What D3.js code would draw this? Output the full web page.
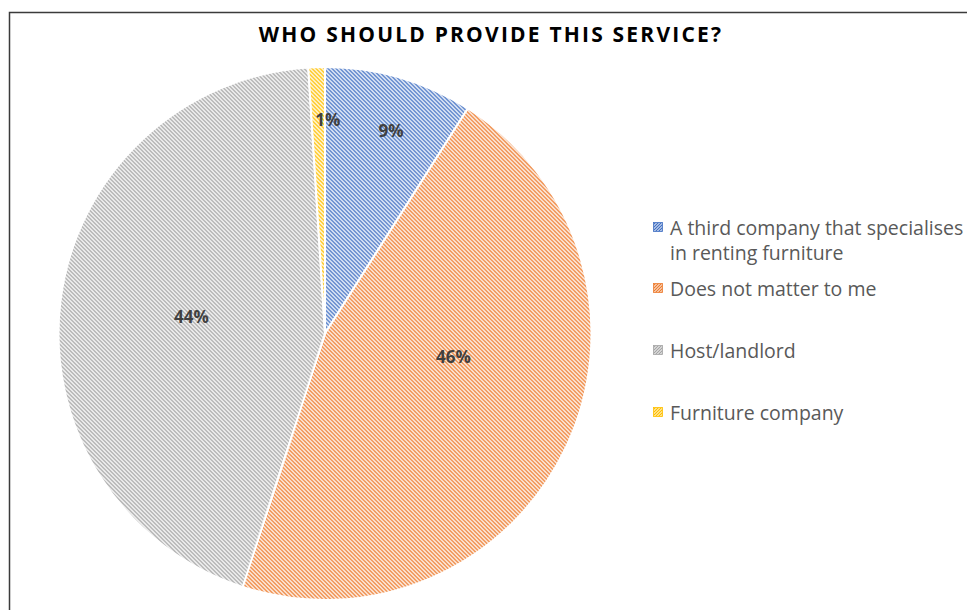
<!DOCTYPE html>
<html>
<head>
<meta charset="utf-8">
<script src="https://cdn.jsdelivr.net/npm/d3@7"></script>
<style>
  html, body { margin: 0; padding: 0; background: #fff; }
  svg { display: block; }
</style>
</head>
<body>
<svg id="chart" width="967" height="610"></svg>
<script>
// Survey answers: who should provide the furniture rental service
const categories = [
  "A third company that specialises in renting furniture",
  "Does not matter to me",
  "Host/landlord",
  "Furniture company"
];
const shares = [9, 46, 44, 1];
const colors = ["#4472C4", "#ED7D31", "#A5A5A5", "#FFC000"];
const legendLines = [
  ["A third company that specialises", "in renting furniture"],
  ["Does not matter to me"],
  ["Host/landlord"],
  ["Furniture company"]
];
// where each percentage label sits inside its slice: [fraction along the arc, fraction of radius]
const labelPlacement = [[0.556, 0.80], [0.41, 0.49], [0.5, 0.505], [1.2, 0.80]];

const svg = d3.select("#chart");
const W = 967, H = 610;

// outer frame of the chart area
svg.append("rect")
  .attr("x", 9.5).attr("y", 12.5)
  .attr("width", W + 20).attr("height", H + 20)
  .attr("fill", "#fff")
  .attr("stroke", "#3b3b3b").attr("stroke-width", 1.5);

// diagonal hatch patterns, one per colour; "down" runs top-left to bottom-right
const defs = svg.append("defs");
function hatch(id, color, tile, down) {
  const p = defs.append("pattern")
    .attr("id", id)
    .attr("patternUnits", "userSpaceOnUse")
    .attr("width", tile).attr("height", tile);
  p.append("rect").attr("width", tile).attr("height", tile).attr("fill", "#fff");
  const h = tile / 2;
  const d = `M-1,-1 L${tile + 1},${tile + 1} M${-1 - h},${h - 1} L${h + 1},${tile + h + 1} M${h - 1},${-h - 1} L${tile + h + 1},${h + 1}`;
  p.append("path")
    .attr("d", d)
    .attr("transform", down ? null : `translate(${tile},0) scale(-1,1)`)
    .attr("stroke", color).attr("stroke-width", 1.4);
}
colors.forEach((c, i) => {
  hatch("hatch" + i, c, 4, true);
  hatch("key" + i, c, 3, false);
});

// title
svg.append("text")
  .attr("x", 491).attr("y", 42)
  .attr("text-anchor", "middle")
  .attr("font-family", "'Open Sans', sans-serif")
  .attr("font-weight", 700)
  .attr("font-size", 21)
  .attr("letter-spacing", 2.2)
  .attr("fill", "#000")
  .text("WHO SHOULD PROVIDE THIS SERVICE?");

// pie
const cx = 325, cy = 333.5, R = 266.5;
const pie = d3.pie().sort(null).value(d => d)(shares);
const arc = d3.arc().innerRadius(0).outerRadius(R);
const g = svg.append("g").attr("transform", `translate(${cx},${cy})`);

g.selectAll("path.slice")
  .data(pie)
  .join("path")
  .attr("class", "slice")
  .attr("d", arc)
  .attr("fill", (d, i) => `url(#hatch${i})`)
  .attr("stroke", "#fff")
  .attr("stroke-width", 2)
  .attr("stroke-linejoin", "round");

// percentage labels
g.selectAll("text.pct")
  .data(pie)
  .join("text")
  .attr("class", "pct")
  .each(function (d, i) {
    const [fa, fr] = labelPlacement[i];
    const a = d.startAngle + fa * (d.endAngle - d.startAngle);
    const r = fr * R;
    d3.select(this)
      .attr("x", Math.sin(a) * r)
      .attr("y", -Math.cos(a) * r);
  })
  .attr("text-anchor", "middle")
  .attr("dy", "0.36em")
  .attr("font-family", "'Open Sans', sans-serif")
  .attr("font-weight", 700)
  .attr("font-size", 17)
  .attr("fill", "#404040")
  .text(d => d.data + "%");

// legend
const legendY = [228, 289, 351, 413];
const legend = svg.append("g");
categories.forEach((cat, i) => {
  const row = legend.append("g").attr("transform", `translate(653,${legendY[i]})`);
  row.append("rect")
    .attr("x", 0.5).attr("y", -5.5)
    .attr("width", 9).attr("height", 9)
    .attr("fill", `url(#key${i})`)
    .attr("stroke", colors[i]).attr("stroke-width", 0.8);
  const t = row.append("text")
    .attr("x", 17).attr("y", 0)
    .attr("font-family", "'Open Sans', sans-serif")
    .attr("font-size", 19.5)
    .attr("fill", "#595959");
  legendLines[i].forEach((line, j) => {
    t.append("tspan").attr("x", 17).attr("y", j * 25).attr("dy", "0.35em").text(line);
  });
  t.append("title").text(cat);
});
</script>
</body>
</html>
